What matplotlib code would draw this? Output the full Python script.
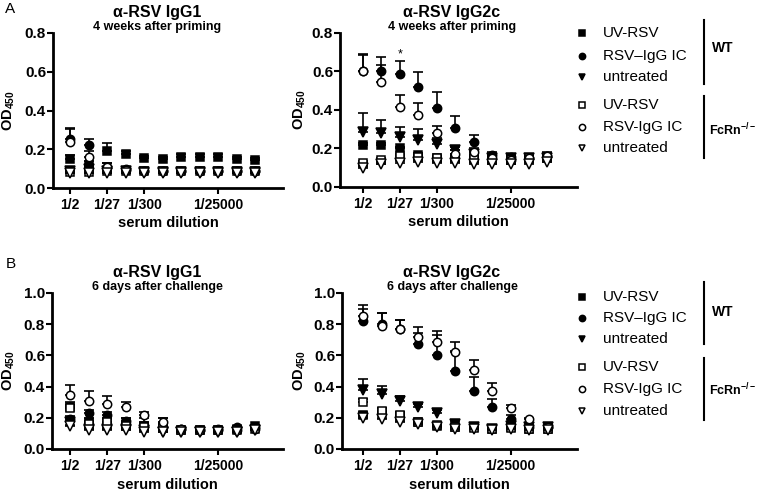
import numpy as np
import matplotlib
matplotlib.use("Agg")
import matplotlib.pyplot as plt

plt.rcParams['font.family'] = ['Liberation Sans', 'DejaVu Sans']
plt.rcParams['mathtext.fontset'] = 'custom'
plt.rcParams['mathtext.rm'] = 'Liberation Sans:bold'
plt.rcParams['mathtext.default'] = 'rm'

# dilution steps (11 points), only some are labelled
n_dil = 11
tick_idx = [0, 2, 4, 8]
tick_labels = ["1/2", "1/27", "1/300", "1/25000"]

groups = ["WT UV-RSV", "WT RSV-IgG IC", "WT untreated",
          "FcRn UV-RSV", "FcRn RSV-IgG IC", "FcRn untreated"]

# A - IgG1, 4 weeks after priming
a1_mean = [
    [0.15, 0.12, 0.19, 0.175, 0.155, 0.15, 0.16, 0.16, 0.16, 0.15, 0.145],
    [0.255, 0.22, 0.11, 0.10, 0.09, 0.09, 0.09, 0.09, 0.09, 0.09, 0.09],
    [0.09, 0.10, 0.09, 0.09, 0.085, 0.085, 0.085, 0.085, 0.085, 0.085, 0.085],
    [0.085, 0.085, 0.09, 0.09, 0.09, 0.09, 0.09, 0.09, 0.09, 0.09, 0.09],
    [0.235, 0.16, 0.11, 0.095, 0.09, 0.09, 0.09, 0.09, 0.09, 0.09, 0.09],
    [0.075, 0.075, 0.075, 0.075, 0.075, 0.075, 0.075, 0.075, 0.075, 0.075, 0.075],
]
a1_err = [
    [0.02, 0.02, 0.04, 0.015, 0.01, 0.01, 0.015, 0.015, 0.015, 0.01, 0.01],
    [0.05, 0.035, 0.02, 0.01, 0.01, 0.01, 0.01, 0.01, 0.01, 0.01, 0.01],
    [0.01, 0.01, 0.01, 0.01, 0.01, 0.01, 0.01, 0.01, 0.01, 0.01, 0.01],
    [0.01, 0.01, 0.01, 0.01, 0.01, 0.01, 0.01, 0.01, 0.01, 0.01, 0.01],
    [0.075, 0.03, 0.02, 0.01, 0.01, 0.01, 0.01, 0.01, 0.01, 0.01, 0.01],
    [0.005, 0.005, 0.005, 0.005, 0.005, 0.005, 0.005, 0.005, 0.005, 0.005, 0.005],
]

# A - IgG2c, 4 weeks after priming
a2_mean = [
    [0.218, 0.22, 0.20, 0.165, 0.153, 0.15, 0.145, 0.14, 0.14, 0.145, 0.15],
    [0.605, 0.605, 0.588, 0.52, 0.41, 0.305, 0.235, 0.165, 0.155, 0.15, 0.16],
    [0.285, 0.28, 0.258, 0.244, 0.223, 0.19, 0.17, 0.15, 0.15, 0.15, 0.15],
    [0.125, 0.14, 0.16, 0.155, 0.15, 0.15, 0.15, 0.145, 0.14, 0.15, 0.155],
    [0.605, 0.548, 0.417, 0.374, 0.282, 0.17, 0.183, 0.15, 0.14, 0.15, 0.16],
    [0.10, 0.12, 0.125, 0.13, 0.125, 0.125, 0.12, 0.12, 0.12, 0.12, 0.13],
]
a2_err = [
    [0.01, 0.01, 0.01, 0.01, 0.01, 0.01, 0.01, 0.01, 0.01, 0.01, 0.01],
    [0.085, 0.07, 0.069, 0.077, 0.085, 0.065, 0.035, 0.015, 0.01, 0.01, 0.015],
    [0.10, 0.07, 0.052, 0.056, 0.03, 0.02, 0.01, 0.01, 0.01, 0.01, 0.01],
    [0.01, 0.01, 0.01, 0.01, 0.01, 0.01, 0.01, 0.01, 0.01, 0.01, 0.01],
    [0.08, 0.087, 0.061, 0.064, 0.035, 0.02, 0.02, 0.01, 0.01, 0.01, 0.02],
    [0.01, 0.01, 0.01, 0.01, 0.01, 0.01, 0.01, 0.01, 0.01, 0.01, 0.01],
]

# B - IgG1, 6 days after challenge
b1_mean = [
    [0.27, 0.17, 0.17, 0.16, 0.15, 0.15, 0.12, 0.125, 0.12, 0.13, 0.145],
    [0.19, 0.23, 0.22, 0.18, 0.15, 0.14, 0.13, 0.12, 0.13, 0.14, 0.14],
    [0.17, 0.13, 0.13, 0.13, 0.12, 0.11, 0.11, 0.11, 0.11, 0.11, 0.12],
    [0.26, 0.16, 0.17, 0.15, 0.14, 0.14, 0.12, 0.12, 0.12, 0.12, 0.13],
    [0.344, 0.31, 0.29, 0.27, 0.215, 0.17, 0.13, 0.12, 0.125, 0.125, 0.13],
    [0.145, 0.12, 0.12, 0.12, 0.11, 0.11, 0.11, 0.11, 0.11, 0.11, 0.12],
]
b1_err = [
    [0.03, 0.03, 0.03, 0.04, 0.05, 0.05, 0.01, 0.01, 0.01, 0.01, 0.01],
    [0.02, 0.02, 0.02, 0.02, 0.02, 0.02, 0.01, 0.01, 0.01, 0.01, 0.01],
    [0.01, 0.01, 0.01, 0.01, 0.01, 0.01, 0.01, 0.01, 0.01, 0.01, 0.01],
    [0.02, 0.02, 0.02, 0.02, 0.02, 0.02, 0.01, 0.01, 0.01, 0.01, 0.01],
    [0.066, 0.06, 0.05, 0.03, 0.025, 0.03, 0.01, 0.01, 0.01, 0.01, 0.01],
    [0.01, 0.01, 0.01, 0.01, 0.01, 0.01, 0.01, 0.01, 0.01, 0.01, 0.01],
]

# B - IgG2c, 6 days after challenge
b2_mean = [
    [0.22, 0.24, 0.21, 0.17, 0.15, 0.14, 0.14, 0.13, 0.14, 0.13, 0.13],
    [0.82, 0.80, 0.77, 0.675, 0.60, 0.497, 0.375, 0.27, 0.19, 0.14, 0.14],
    [0.38, 0.355, 0.305, 0.27, 0.23, 0.16, 0.14, 0.13, 0.15, 0.14, 0.14],
    [0.30, 0.245, 0.22, 0.175, 0.155, 0.14, 0.135, 0.13, 0.135, 0.13, 0.13],
    [0.855, 0.79, 0.77, 0.715, 0.685, 0.62, 0.508, 0.375, 0.263, 0.19, 0.14],
    [0.20, 0.19, 0.17, 0.16, 0.14, 0.13, 0.13, 0.12, 0.13, 0.12, 0.12],
]
b2_err = [
    [0.02, 0.02, 0.02, 0.01, 0.01, 0.01, 0.01, 0.01, 0.01, 0.01, 0.01],
    [0.08, 0.07, 0.06, 0.07, 0.13, 0.13, 0.085, 0.05, 0.03, 0.01, 0.01],
    [0.07, 0.05, 0.035, 0.02, 0.02, 0.02, 0.01, 0.01, 0.01, 0.01, 0.01],
    [0.02, 0.02, 0.02, 0.01, 0.01, 0.01, 0.01, 0.01, 0.01, 0.01, 0.01],
    [0.065, 0.08, 0.06, 0.065, 0.07, 0.065, 0.062, 0.045, 0.02, 0.01, 0.01],
    [0.01, 0.01, 0.01, 0.01, 0.01, 0.01, 0.01, 0.01, 0.01, 0.01, 0.01],
]

markers = ['s', 'o', 'v', 's', 'o', 'v']
filled = [True, True, True, False, False, False]
msizes = [5.5, 6, 6.5, 5.5, 6, 6.5]

W, H = 758, 491
fig = plt.figure(figsize=(W / 100, H / 100), dpi=100)


def px_axes(l, t, r, b):
    return fig.add_axes([l / W, 1 - b / H, (r - l) / W, (b - t) / H])


def draw_panel(ax, means, errs, ymax, xlim, title, subtitle, tx, ylab_x, xlab_pad):
    x = np.arange(n_dil)
    for i in range(len(groups)):
        m = np.array(means[i])
        e = np.array(errs[i])
        ax.errorbar(x, m, yerr=[np.zeros_like(e), e], fmt='none', ecolor='black',
                    elinewidth=1.2, capsize=3.5, capthick=1.2, zorder=2 + i)
        ax.plot(x, m, linestyle='none', marker=markers[i], markersize=msizes[i],
                markerfacecolor='black' if filled[i] else 'white',
                markeredgecolor='black', markeredgewidth=1.1, zorder=2 + i)
    ax.set_xlim(*xlim)
    ax.set_ylim(0, ymax)
    yt = np.arange(0, ymax + 0.01, 0.2)
    ax.set_yticks(yt)
    ax.set_yticklabels([f"{v:.1f}" for v in yt])
    ax.set_xticks(tick_idx)
    ax.set_xticklabels(tick_labels)
    for s in ['top', 'right']:
        ax.spines[s].set_visible(False)
    for s in ['left', 'bottom']:
        ax.spines[s].set_linewidth(2)
    ax.tick_params(axis='both', direction='out', length=4, width=1.5)
    ax.tick_params(axis='x', labelsize=10, pad=3)
    ax.tick_params(axis='y', labelsize=11, pad=1)
    for lab in ax.get_xticklabels() + ax.get_yticklabels():
        lab.set_fontweight('bold')
    ax.set_xlabel("serum dilution", fontsize=10.5, fontweight='bold', labelpad=xlab_pad)
    ax.set_ylabel(r"$\mathrm{OD}_{450}$", fontsize=10.5)
    ax.yaxis.set_label_coords(ylab_x, 0.5)
    top = ax.get_position().y1
    fig.text(tx / W, top + 21 / H, title, fontsize=11.5, fontweight='bold',
             ha='center', va='center')
    fig.text(tx / W, top + 6 / H, subtitle, fontsize=9, fontweight='bold',
             ha='center', va='center')


ax_a1 = px_axes(53, 33, 283, 188)
draw_panel(ax_a1, a1_mean, a1_err, 0.8, (-0.92, 11.5),
           "α-RSV IgG1", "4 weeks after priming", 157, -0.155, 3)
ax_a2 = px_axes(340, 33, 577, 187)
draw_panel(ax_a2, a2_mean, a2_err, 0.8, (-1.25, 11.6),
           "α-RSV IgG2c", "4 weeks after priming", 452, -0.135, 3)
ax_a2.text(2, 0.69, "*", ha='center', va='center', fontsize=9)
ax_b1 = px_axes(52, 293, 283, 449)
draw_panel(ax_b1, b1_mean, b1_err, 1.0, (-0.98, 11.5),
           "α-RSV IgG1", "6 days after challenge", 157, -0.15, 4)
ax_b2 = px_axes(342, 293, 577, 449)
draw_panel(ax_b2, b2_mean, b2_err, 1.0, (-1.15, 11.6),
           "α-RSV IgG2c", "6 days after challenge", 452, -0.145, 4)

fig.text(5 / W, 1 - 9 / H, "A", fontsize=11, ha='left', va='center')
fig.text(6 / W, 1 - 264 / H, "B", fontsize=11, ha='left', va='center')

# legends (drawn in pixel space on an overlay)
leg = fig.add_axes([0, 0, 1, 1])
leg.set_xlim(0, W)
leg.set_ylim(H, 0)
leg.axis('off')
leg_labels = ["UV-RSV", "RSV–IgG IC", "untreated", "UV-RSV", "RSV-IgG IC", "untreated"]
for rows, wt_bar, fc_bar, wt_y, fc_y in [
        ([33, 56, 77, 105, 127, 148], (20, 84), (96, 158), 48, 130),
        ([297, 318, 339, 367, 389, 411], (282, 344), (358, 420), 312, 390)]:
    for i, yy in enumerate(rows):
        leg.plot([582], [yy], linestyle='none', marker=markers[i],
                 markersize=msizes[i] - 1.5,
                 markerfacecolor='black' if filled[i] else 'white',
                 markeredgecolor='black', markeredgewidth=1.1)
        leg.text(603, yy, leg_labels[i], fontsize=11, ha='left', va='center')
    leg.plot([704, 704], wt_bar, color='black', lw=1.5)
    leg.plot([704, 704], fc_bar, color='black', lw=1.5)
    leg.text(712, wt_y, "WT", fontsize=10, fontweight='bold', ha='left', va='center')
    leg.text(709, fc_y, r"FcRn$^{-/-}$", fontsize=9, fontweight='bold',
             ha='left', va='center')

fig.savefig("out.png", dpi=100)
